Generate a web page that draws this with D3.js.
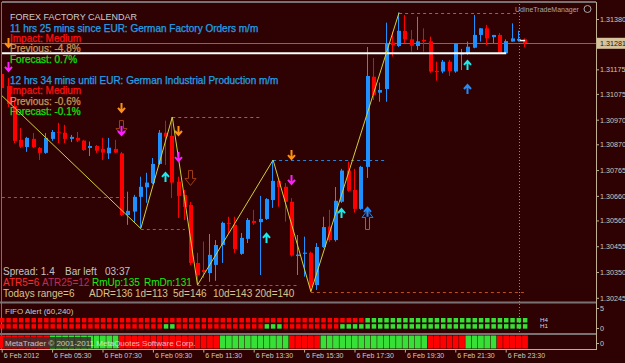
<!DOCTYPE html>
<html>
<head>
<meta charset="utf-8">
<script src="https://cdn.jsdelivr.net/npm/d3@7"></script>
<style>
  html, body { margin: 0; padding: 0; background: #2c0202; }
  svg { display: block; }
  text { font-family: Arial, "Liberation Sans", sans-serif; }
</style>
</head>
<body>
<div id="chart"></div>
<script>
const width = 625;
const height = 363;

// EURUSD M15, 6 Feb 2012 03:30 -> 7 Feb 00:15
const open = [1.31156,1.31107,1.31026,1.30888,1.30859,1.30892,1.30855,1.30835,1.30892,1.30921,
  1.30917,1.30892,1.30896,1.30885,1.30855,1.30863,1.30851,1.30833,1.30851,1.30833,
  1.30582,1.30596,1.30656,1.30695,1.30712,1.30790,1.30917,1.30904,1.30718,1.30664,
  1.30623,1.30387,1.30358,1.30346,1.30379,1.30460,1.30550,1.30542,1.30424,1.30485,
  1.30558,1.30553,1.30566,1.30643,1.30721,1.30697,1.30636,1.30415,1.30424,1.30428,
  1.30297,1.30452,1.30535,1.30480,1.30636,1.30763,1.30684,1.30607,1.30778,1.31145,
  1.31080,1.31095,1.31284,1.31270,1.31331,1.31297,1.31270,1.31295,1.31289,1.31168,
  1.31166,1.31206,1.31166,1.31236,1.31238,1.31263,1.31315,1.31342,1.31306,1.31315,
  1.31240,1.31288,1.31292,1.31297];
const high = [1.31172,1.31140,1.31050,1.30936,1.30900,1.30916,1.30859,1.30916,1.30928,1.30957,
  1.30949,1.30908,1.30920,1.30888,1.30881,1.30867,1.30896,1.30896,1.30888,1.30839,
  1.30677,1.30664,1.30738,1.30754,1.30814,1.30928,1.30966,1.30981,1.30738,1.30684,
  1.30635,1.30428,1.30474,1.30505,1.30480,1.30555,1.30575,1.30575,1.30509,1.30570,
  1.30603,1.30660,1.30651,1.30806,1.30733,1.30712,1.30651,1.30501,1.30494,1.30433,
  1.30468,1.30575,1.30603,1.30696,1.30770,1.30799,1.30770,1.30782,1.31266,1.31221,
  1.31121,1.31365,1.31328,1.31406,1.31396,1.31335,1.31389,1.31342,1.31308,1.31206,
  1.31213,1.31213,1.31282,1.31258,1.31288,1.31396,1.31343,1.31356,1.31315,1.31322,
  1.31297,1.31362,1.31332,1.31301];
const low = [1.31091,1.31022,1.30875,1.30855,1.30839,1.30855,1.30806,1.30831,1.30884,1.30875,
  1.30875,1.30879,1.30879,1.30843,1.30822,1.30835,1.30806,1.30810,1.30835,1.30578,
  1.30542,1.30550,1.30527,1.30632,1.30708,1.30786,1.30786,1.30651,1.30570,1.30562,
  1.30379,1.30297,1.30326,1.30310,1.30314,1.30387,1.30509,1.30428,1.30420,1.30468,
  1.30542,1.30338,1.30562,1.30611,1.30616,1.30555,1.30413,1.30338,1.30331,1.30270,
  1.30277,1.30448,1.30472,1.30474,1.30631,1.30677,1.30592,1.30603,1.30733,1.31050,
  1.31043,1.31043,1.31227,1.31266,1.31282,1.31247,1.31254,1.31247,1.31161,1.31129,
  1.31159,1.31148,1.31161,1.31172,1.31234,1.31261,1.31288,1.31274,1.31281,1.31238,
  1.31238,1.31288,1.31288,1.31265];
const close = [1.31099,1.31034,1.30884,1.30860,1.30896,1.30859,1.30835,1.30896,1.30920,1.30917,
  1.30892,1.30900,1.30885,1.30847,1.30863,1.30844,1.30836,1.30856,1.30836,1.30582,
  1.30599,1.30656,1.30697,1.30714,1.30790,1.30917,1.30901,1.30714,1.30660,1.30615,
  1.30387,1.30338,1.30350,1.30420,1.30460,1.30550,1.30546,1.30444,1.30489,1.30562,
  1.30550,1.30566,1.30647,1.30721,1.30695,1.30636,1.30417,1.30421,1.30429,1.30290,
  1.30452,1.30533,1.30480,1.30640,1.30763,1.30681,1.30607,1.30778,1.31148,1.31071,
  1.31091,1.31282,1.31273,1.31332,1.31297,1.31271,1.31289,1.31289,1.31166,1.31166,
  1.31206,1.31168,1.31281,1.31240,1.31267,1.31315,1.31342,1.31301,1.31315,1.31240,
  1.31290,1.31301,1.31299,1.31281];

const bidPrice = 1.31281;
const tradeLevel = 1.31240;
const askPrice = 1.31292;

const priceTicks = [1.31380,1.31175,1.31075,1.30970,1.30870,1.30765,1.30660,1.30560,1.30455,1.30350,1.30245];
const timeTickBars = [0,8,16,24,32,40,48,56,64,72,80];
const timeLabels = ["6 Feb 2012","6 Feb 05:30","6 Feb 07:30","6 Feb 09:30","6 Feb 11:30","6 Feb 13:30",
  "6 Feb 15:30","6 Feb 17:30","6 Feb 19:30","6 Feb 21:30","6 Feb 23:30"];
const daySeparatorBar = 82;

// zigzag pivots
const zigBars = [-1, 22, 27, 31, 43, 49, 63];
const zigPrices = [1.31091, 1.30527, 1.30981, 1.30297, 1.30806, 1.30270, 1.31406];

// support / resistance levels from pivots
const levelPrices = [1.30656, 1.30527, 1.30981, 1.30297, 1.30806, 1.30270, 1.31406];
const levelFrom =   [-1, 22, 27, 31, 43, 49, 63];
const levelTo =     [20, 29, 41, 47, 61, 83, 82];
const levelKind =   ["low","low","high","low","high","low","high"];

// signal arrows
const orangeDownBars = [1, 19, 28, 46];
const orangeDownPrices = [1.31282, 1.31018, 1.30924, 1.30826];
const magentaDownBars = [1, 19, 28, 46];
const magentaDownPrices = [1.31185, 1.30924, 1.30818, 1.30725];
const hollowDownBars = [19, 30];
const hollowDownPrices = [1.30936, 1.30733];
const cyanUpBars = [26, 42, 54, 74];
const cyanUpPrices = [1.30737, 1.30489, 1.30590, 1.31193];
const blueUpBars = [58, 74];
const blueUpPrices = [1.30595, 1.31095];
const hollowUpBars = [58];
const hollowUpPrices = [1.30562];

// FIFO Alert (60,240): 1 = green, 0 = red
const fifoH4 = [0,0,0,0,0,0,0,0,0,0, 0,0,0,0,0,0,0,0,0,0, 0,0,0,0,0,0,0,0,0,0, 0,0,0,0,0,0,0,0,0,0,
  0,0,0,0,0,0,0,0,0,0, 0,0,0,0,0,0,0,0,1,1, 1,1,1,1,1,1,1,1,1,1, 1,1,1,1,1,1,1,1,1,1, 1,1,1,1];
const fifoH1 = [0,0,0,0,0,0,0,0,0,0, 0,0,0,0,0,0,0,0,0,0, 0,0,0,0,0,0,1,1,0,0, 0,0,0,0,0,0,0,0,0,0,
  0,0,1,1,1,0,0,0,0,0, 0,0,0,0,1,1,1,1,1,1, 1,1,1,1,1,1,1,1,1,1, 1,1,1,1,1,1,1,1,1,1, 1,1,1,1];
const fifoRows = ["H4", "H1"];
const histUp = [0,0,0,0,0,0,0,0,1,1, 1,1,1,1,1,1,1,1,1,0, 0,0,0,0,0,0,0,0,0,0, 0,0,0,0,0,1,1,1,1,1,
  1,1,1,1,1,1,0,0,0,0, 0,1,1,1,1,1,1,1,1,1, 1,1,1,1,1,1,1,1,0,0, 0,0,0,0,1,1,1,1,1,0, 0,0,0,0];

const calTitle = "FOREX FACTORY CALENDAR";
const event1 = ["11 hrs 25 mins since EUR: German Factory Orders m/m", "Impact: Medium", "Previous: -4.8%", "Forecast: 0.7%"];
const event2 = ["12 hrs 34 mins until EUR: German Industrial Production m/m", "Impact: Medium", "Previous: -0.6%", "Forecast: -0.1%"];
const infoSpread = ["Spread: 1.4", "Bar left", "03:37"];
const infoAtr = ["ATR5=6", "ATR25=12", "RmUp:135", "RmDn:131"];
const infoRange = ["Todays range=6", "ADR=136", "1d=113", "5d=146", "10d=143", "20d=140"];

const bg = "#2e0202", bull = "#1e90ff", bear = "#ff0000", green = "#36e036";
const frame = "#7a7272", axisCol = "#c0b090", label = "#cfcabc";

const x = d3.scaleLinear().domain([0, 83]).range([2.2, 2.2 + 83 * 6.3]);
const y = d3.scaleLinear().domain([1.30228, 1.31445]).range([302, 3]);
const px = i => Math.round(x(i));

let svg = d3.select("#chart")
  .append("svg")
    .attr("width", width)
    .attr("height", height);

svg.append("rect").attr("width", width).attr("height", height).attr("fill", bg);

svg.append("clipPath").attr("id", "main")
  .append("rect").attr("x", 2).attr("y", 3).attr("width", 594).attr("height", 299);

const plot = svg.append("g").attr("clip-path", "url(#main)");

// level lines
plot.selectAll(".level").data(levelPrices).join("line")
  .attr("x1", (d, i) => x(levelFrom[i])).attr("x2", (d, i) => x(levelTo[i]))
  .attr("y1", d => Math.round(y(d)) + 0.5).attr("y2", d => Math.round(y(d)) + 0.5)
  .attr("stroke", (d, i) => levelKind[i] == "high" ? "#2a82d8" : "#b8501e")
  .attr("stroke-dasharray", "3,3");

// bid line
plot.append("line")
  .attr("x1", 0).attr("x2", 596)
  .attr("y1", Math.round(y(bidPrice)) + 0.5).attr("y2", Math.round(y(bidPrice)) + 0.5)
  .attr("stroke", "#4e7c78");

// day separator
svg.append("line")
  .attr("x1", px(daySeparatorBar) + 0.5).attr("x2", px(daySeparatorBar) + 0.5)
  .attr("y1", 4).attr("y2", 349)
  .attr("stroke", "#8c8c70").attr("stroke-dasharray", "1,2");

// candles
const bars = plot.selectAll(".bar").data(d3.range(open.length)).join("g");
bars.append("line")
  .attr("x1", i => px(i) - 0.5).attr("x2", i => px(i) - 0.5)
  .attr("y1", i => y(high[i])).attr("y2", i => y(low[i]))
  .attr("stroke", i => close[i] >= open[i] ? bull : bear);
bars.append("rect")
  .attr("x", i => px(i) - 2).attr("width", 4)
  .attr("y", i => y(Math.max(open[i], close[i])))
  .attr("height", i => Math.max(1, Math.abs(y(open[i]) - y(close[i]))))
  .attr("fill", i => close[i] >= open[i] ? bull : bear);

// trade line
plot.append("line")
  .attr("x1", 0).attr("x2", x(80))
  .attr("y1", y(tradeLevel)).attr("y2", y(tradeLevel))
  .attr("stroke", "#ffffff").attr("stroke-width", 2);
plot.append("line")
  .attr("x1", x(82)).attr("x2", x(83))
  .attr("y1", y(askPrice)).attr("y2", y(askPrice))
  .attr("stroke", "#ffffff").attr("stroke-width", 1.5);

// zigzag
const zig = d3.line().x(d => x(d)).y((d, i) => y(zigPrices[i]));
plot.append("path")
  .datum(zigBars)
  .attr("fill", "none")
  .attr("stroke", "#d0d03c")
  .attr("d", zig);

// arrows
const solidDown = "M0,-5V3.5M-3.5,0L0,4L3.5,0";
const solidUp = "M0,5V-3.5M-3.5,0L0,-4L3.5,0";
const hollow = h => `M-2,${-h/2}H2V${h/2 - 7}H5.5L0,${h/2}L-5.5,${h/2 - 7}H-2Z`;

const drawArrows = (barsIdx, prices, path, color, solid, flip) => {
  plot.append("g").selectAll("path").data(barsIdx).join("path")
    .attr("transform", (d, i) => `translate(${px(d) - 0.5},${y(prices[i])})` + (flip ? " scale(1,-1)" : ""))
    .attr("d", path)
    .attr("fill", "none")
    .attr("stroke", color)
    .attr("stroke-width", solid ? 2 : 1);
};
drawArrows(hollowDownBars, hollowDownPrices, hollow(15), "#a03c14", false, false);
drawArrows(hollowUpBars, hollowUpPrices, hollow(19), "#2a82d8", false, true);
drawArrows(orangeDownBars, orangeDownPrices, solidDown, "#ff9010", true, false);
drawArrows(magentaDownBars, magentaDownPrices, solidDown, "#ff1eff", true, false);
drawArrows(cyanUpBars, cyanUpPrices, solidUp, "#10f0f0", true, false);
drawArrows(blueUpBars, blueUpPrices, solidUp, "#1e8cff", true, false);

// calendar text
svg.append("text").attr("x", 10).attr("y", 20)
  .attr("font-size", 9).attr("fill", "#cccccc").text(calTitle);
const calColors = ["#20a0e8", "#ff1010", "#c8965a", "#10e010"];
[event1, event2].forEach((ev, k) => {
  svg.append("g").selectAll("text").data(ev).join("text")
    .attr("x", 10)
    .attr("y", (d, i) => (k == 0 ? 31.5 : 84) + i * 10.4)
    .attr("font-size", 10)
    .attr("fill", (d, i) => calColors[i])
    .attr("stroke", (d, i) => calColors[i]).attr("stroke-width", 0.25)
    .text(d => d);
});

// info text
const spreadX = [3, 65, 105];
svg.append("g").selectAll("text").data(infoSpread).join("text")
  .attr("x", (d, i) => spreadX[i]).attr("y", 275)
  .attr("font-size", 10).attr("fill", "#c4c4c4").text(d => d);
const atrX = [3, 42, 92, 144];
const atrCol = ["#ff2a2a", "#c02c5a", "#10f010", "#10f010"];
svg.append("g").selectAll("text").data(infoAtr).join("text")
  .attr("x", (d, i) => atrX[i]).attr("y", 285.5)
  .attr("font-size", 10).attr("fill", (d, i) => atrCol[i]).text(d => d);
const rangeX = [3, 89, 135, 173, 213, 255];
svg.append("g").selectAll("text").data(infoRange).join("text")
  .attr("x", (d, i) => rangeX[i]).attr("y", 296.5)
  .attr("font-size", 10).attr("fill", "#d8c48c").text(d => d);

svg.append("text").attr("x", 515).attr("y", 11.5)
  .attr("font-size", 7).attr("fill", "#a8a8a8").text("UdineTradeManager");
svg.append("circle").attr("cx", 587.5).attr("cy", 9).attr("r", 3.5)
  .attr("fill", "none").attr("stroke", "#a8a8a8");

// frame
svg.append("line").attr("x1", 2).attr("x2", 596).attr("y1", 2).attr("y2", 2).attr("stroke", frame).attr("stroke-width", 2);
svg.append("line").attr("x1", 1.5).attr("x2", 1.5).attr("y1", 2).attr("y2", 350).attr("stroke", frame);
svg.append("line").attr("x1", 0).attr("x2", 597).attr("y1", 302.5).attr("y2", 302.5).attr("stroke", frame).attr("stroke-width", 2);
svg.append("line").attr("x1", 0).attr("x2", 597).attr("y1", 334).attr("y2", 334).attr("stroke", frame).attr("stroke-width", 2);

// price axis
const yAxis = svg.append("g")
  .attr("transform", "translate(596,0)")
  .call(d3.axisRight(y).tickValues(priceTicks).tickFormat(d3.format(".5f")).tickSize(3).tickSizeOuter(0));
yAxis.select(".domain").remove();
yAxis.selectAll("line").attr("stroke", axisCol);
yAxis.selectAll("text").attr("x", 4).attr("fill", label).attr("font-size", 7.2).attr("font-family", "Arial");

svg.append("rect").attr("x", 597).attr("y", y(bidPrice) - 5.5).attr("width", 28).attr("height", 11).attr("fill", "#d8c49c");
svg.append("text").attr("x", 600).attr("y", y(bidPrice) + 2.6)
  .attr("font-size", 7.2).attr("fill", "#201010").text(d3.format(".5f")(bidPrice));

svg.append("line").attr("x1", 596.5).attr("x2", 596.5).attr("y1", 2).attr("y2", 350).attr("stroke", axisCol);

// FIFO alert subwindow
svg.append("text").attr("x", 5).attr("y", 314).attr("font-size", 8).attr("fill", "#c8c8c8").text("FIFO Alert (60,240)");
const row = d3.scaleBand().domain(fifoRows).range([317.5, 329.5]).paddingInner(0.05);
[fifoH4, fifoH1].forEach((vals, k) => {
  svg.append("g").selectAll("rect").data(vals).join("rect")
    .attr("x", (d, i) => x(i) - 2.2).attr("width", 4.5)
    .attr("y", row(fifoRows[k]) + 0.5).attr("height", 4.5)
    .attr("fill", d => d ? green : bear);
});
svg.append("g").selectAll("text").data(fifoRows).join("text")
  .attr("x", 540).attr("y", d => row(d) + 4.8)
  .attr("font-size", 6.2).attr("fill", "#d0d8f0").text(d => d);
const fifoY = d3.scaleLinear().domain([0, 5]).range([328, 308]);
const fAxis = svg.append("g").attr("transform", "translate(596,0)")
  .call(d3.axisRight(fifoY).tickValues([0, 5]).tickFormat(d3.format("d")).tickSize(3));
fAxis.select(".domain").remove();
fAxis.selectAll("line").attr("stroke", axisCol);
fAxis.selectAll("text").attr("x", 4).attr("fill", label).attr("font-size", 7.2);

// trend histogram subwindow
svg.append("g").selectAll("rect").data(histUp).join("rect")
  .attr("x", (d, i) => x(i) - 3).attr("width", 5.8)
  .attr("y", 335.5).attr("height", 13)
  .attr("fill", d => d ? green : bear);
svg.append("rect").attr("x", 3).attr("y", 337).attr("width", 88).attr("height", 11).attr("fill", "#3a2e2e").attr("opacity", 0.85);
svg.append("text").attr("x", 5).attr("y", 345.5).attr("font-size", 8).attr("fill", "#f0f0f0")
  .text("MetaTrader © 2001-2011 MetaQuotes Software Corp.").attr("opacity", 0.75);
svg.append("text").attr("x", 600).attr("y", 346).attr("font-size", 7.2).attr("fill", label).text("0");
svg.append("line").attr("x1", 596).attr("x2", 599).attr("y1", 343.5).attr("y2", 343.5).attr("stroke", axisCol);

// time axis
svg.append("line").attr("x1", 0).attr("x2", 597).attr("y1", 349.5).attr("y2", 349.5).attr("stroke", axisCol);
const xAxis = svg.append("g")
  .attr("transform", "translate(0,349.5)")
  .call(d3.axisBottom(x).tickValues(timeTickBars).tickFormat((d, i) => timeLabels[i]).tickSize(3).tickSizeOuter(0));
xAxis.select(".domain").remove();
xAxis.selectAll("line").attr("stroke", axisCol).attr("transform", "translate(-0.5,0)");
xAxis.selectAll("text").attr("text-anchor", "start").attr("dx", 1).attr("y", 4)
  .attr("fill", label).attr("font-size", 7);
</script>
</body>
</html>
